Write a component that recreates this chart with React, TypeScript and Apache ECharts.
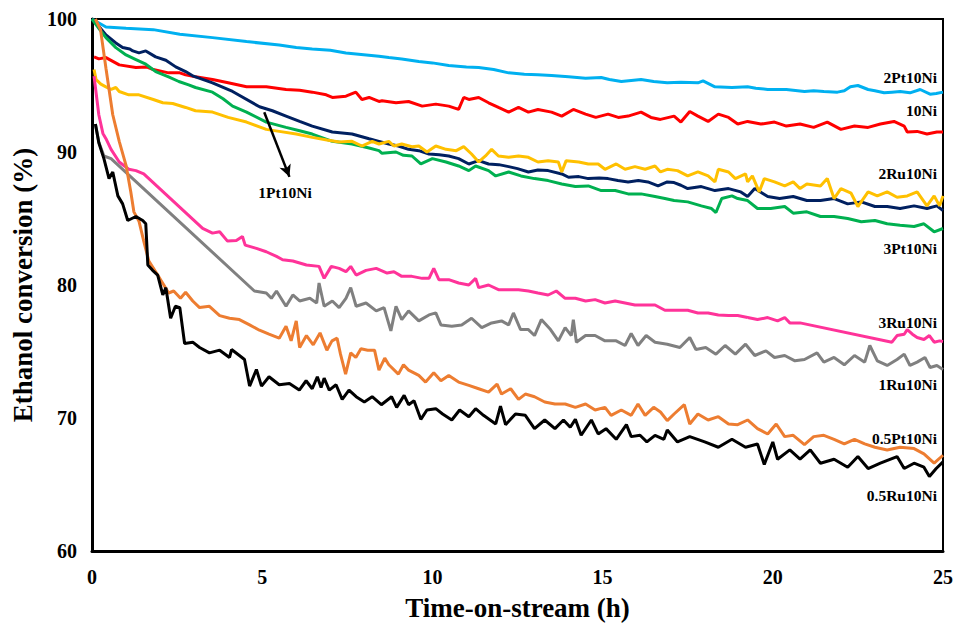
import React, { useEffect, useRef } from "react";
import * as echarts from "echarts";

// ---- Data (time-on-stream h, ethanol conversion %) ----
const xTicks = [0, 5, 10, 15, 20, 25];
const yTicks = [60, 70, 80, 90, 100];

const d2Pt10Ni: [number, number][] = [
  [0, 100], [0.41, 99.4], [1.0, 99.3], [1.8, 99.2], [2.58, 98.85], [3.54, 98.6], [4.54, 98.3], [5.5, 98.05],
  [6.0, 97.85], [6.47, 97.75], [7.0, 97.65], [7.46, 97.45], [8.43, 97.2], [8.72, 97.1], [9.1, 97.0], [9.6, 96.8],
  [10.0, 96.7], [10.48, 96.5], [11.0, 96.4], [11.36, 96.35], [11.8, 96.2], [12.24, 95.95], [12.7, 95.85], [13.1, 95.8],
  [13.5, 95.75], [14.0, 95.65], [14.5, 95.55], [14.96, 95.6], [15.2, 95.45], [15.55, 95.3], [16.13, 95.45], [16.5, 95.3],
  [16.9, 95.2], [17.3, 95.25], [17.8, 95.2], [17.95, 95.35], [18.3, 94.9], [18.8, 94.85], [19.26, 94.9], [19.5, 94.8],
  [19.85, 94.7], [20.4, 94.7], [20.93, 94.55], [21.2, 94.6], [21.5, 94.55], [21.9, 94.5], [22.1, 94.6], [22.28, 94.9],
  [22.5, 95.0], [22.8, 94.7], [23.0, 94.6], [23.27, 94.45], [23.5, 94.5], [23.74, 94.55], [24.03, 94.45], [24.33, 94.7],
  [24.62, 94.35], [24.8, 94.4], [25, 94.5],
];

const d10Ni: [number, number][] = [
  [0.06, 97.15], [0.2, 97.0], [0.41, 97.1], [0.8, 96.55], [1.29, 96.35], [1.6, 96.4], [1.8, 96.2], [2.25, 95.95],
  [2.58, 95.95], [2.75, 95.8], [3.04, 95.65], [3.54, 95.45], [4.0, 95.2], [4.54, 94.9], [5.12, 94.9], [5.7, 94.7],
  [6.1, 94.65], [6.47, 94.5], [6.88, 94.3], [7.06, 94.1], [7.46, 94.2], [7.75, 94.5], [7.93, 93.95], [8.14, 94.1],
  [8.43, 93.8], [8.52, 93.85], [8.93, 93.7], [9.3, 93.8], [9.7, 93.45], [10.1, 93.6], [10.48, 93.45], [10.77, 93.2],
  [10.92, 94.1], [11.07, 93.95], [11.36, 94.1], [11.65, 93.7], [11.94, 93.35], [12.24, 93.0], [12.53, 93.35], [12.82, 93.0],
  [13.1, 93.2], [13.5, 93.0], [13.8, 92.7], [14.14, 93.2], [14.5, 92.85], [14.8, 92.6], [15.16, 92.85], [15.46, 92.6],
  [15.75, 92.7], [16.13, 93.0], [16.42, 92.6], [16.7, 92.45], [17.1, 92.7], [17.3, 92.25], [17.56, 93.05], [17.8, 92.7],
  [18.1, 92.3], [18.4, 92.85], [18.7, 92.6], [18.97, 92.1], [19.26, 92.3], [19.65, 92.1], [20.05, 92.25], [20.4, 91.95],
  [20.8, 92.1], [21.2, 91.85], [21.6, 92.25], [22.0, 91.7], [22.4, 91.95], [22.8, 91.85], [23.16, 92.1], [23.56, 92.3],
  [23.86, 91.95], [23.95, 91.5], [24.24, 91.55], [24.53, 91.35], [24.82, 91.5], [25, 91.5],
];

const d1Pt10Ni: [number, number][] = [
  [0, 100], [0.12, 99.7], [0.41, 98.8], [0.7, 98.2], [0.9, 97.85], [1.11, 97.75], [1.2, 97.6], [1.38, 97.45],
  [1.58, 97.6], [1.87, 97.15], [2.17, 96.9], [2.46, 96.4], [2.75, 96.05], [2.98, 95.7], [3.54, 95.2], [4.13, 94.55],
  [4.92, 93.4], [5.3, 93.1], [5.7, 92.7], [6.1, 92.3], [6.47, 91.95], [7.06, 91.5], [7.64, 91.35], [8.14, 91.0],
  [8.43, 90.8], [8.72, 90.6], [9.0, 90.45], [9.3, 90.2], [9.6, 90.1], [9.9, 89.85], [10.2, 89.8], [10.48, 89.7],
  [10.77, 89.5], [11.07, 89.1], [11.36, 89.35], [11.65, 89.1], [11.95, 89.05], [12.24, 88.9], [12.5, 88.75], [12.82, 88.5],
  [13.1, 88.65], [13.4, 88.6], [13.8, 88.35], [14.0, 88.1], [14.3, 88.15], [14.58, 88.0], [14.9, 88.05], [15.16, 88.0],
  [15.45, 87.85], [15.75, 87.75], [16.05, 87.85], [16.33, 87.75], [16.63, 87.45], [16.9, 87.75], [17.1, 87.7], [17.3, 87.5],
  [17.5, 87.25], [17.9, 87.4], [18.3, 87.1], [18.7, 87.25], [19.06, 87.0], [19.26, 86.65], [19.47, 87.25], [19.85, 86.65],
  [20.2, 86.5], [20.6, 86.65], [21.0, 86.35], [21.4, 86.35], [21.8, 86.5], [22.2, 86.1], [22.6, 86.25], [23.0, 85.9],
  [23.36, 85.9], [23.74, 85.75], [24.15, 85.95], [24.53, 85.75], [24.82, 85.95], [25, 85.6],
];

const d3Pt10Ni: [number, number][] = [
  [0, 100], [0.2, 99.3], [0.41, 98.6], [0.7, 97.85], [1.0, 97.3], [1.29, 96.95], [1.58, 96.6], [1.87, 96.05],
  [2.25, 95.65], [2.55, 95.3], [2.84, 95.05], [3.04, 94.85], [3.54, 94.5], [3.85, 94.0], [4.13, 93.45], [4.54, 93.0],
  [5.12, 92.25], [5.7, 91.85], [6.1, 91.6], [6.47, 91.35], [7.06, 90.8], [7.64, 90.6], [8.14, 90.3], [8.43, 90.1],
  [8.52, 89.9], [8.93, 90.0], [9.15, 89.75], [9.4, 89.7], [9.66, 89.1], [10.0, 89.5], [10.4, 89.25], [10.77, 88.95],
  [11.07, 88.6], [11.27, 88.95], [11.65, 88.6], [11.86, 88.2], [12.24, 88.5], [12.6, 88.2], [13.0, 88.0], [13.4, 87.85],
  [13.8, 87.6], [14.2, 87.4], [14.58, 87.45], [14.96, 87.1], [15.37, 87.1], [15.75, 86.85], [16.13, 86.85], [16.54, 86.65],
  [16.83, 86.5], [17.1, 86.35], [17.5, 86.25], [17.9, 85.95], [18.2, 85.75], [18.33, 85.45], [18.5, 86.5], [18.8, 86.7],
  [18.97, 86.5], [19.26, 86.35], [19.55, 85.75], [19.94, 85.75], [20.35, 85.9], [20.6, 85.4], [21.0, 85.5], [21.4, 85.15],
  [21.8, 85.15], [22.2, 85.0], [22.6, 84.75], [23.0, 84.85], [23.36, 84.6], [23.74, 84.5], [24.15, 84.4], [24.44, 84.6],
  [24.74, 84.0], [25, 84.25],
];

const d2Ru10Ni: [number, number][] = [
  [0.06, 96.2], [0.12, 95.45], [0.26, 95.1], [0.41, 94.9], [0.56, 94.7], [0.7, 94.85], [0.8, 94.55], [1.08, 94.3],
  [1.38, 94.3], [1.8, 93.95], [2.08, 93.7], [2.37, 93.65], [2.75, 93.35], [3.04, 93.1], [3.54, 93.0], [4.0, 92.6],
  [4.54, 92.25], [5.12, 91.7], [5.5, 91.55], [6.0, 91.35], [6.47, 91.1], [6.9, 90.9], [7.26, 90.75], [7.64, 90.8],
  [7.93, 90.45], [8.23, 90.8], [8.43, 90.6], [8.72, 90.8], [8.87, 90.45], [9.1, 90.6], [9.4, 90.4], [9.6, 90.45],
  [9.84, 90.0], [10.1, 90.45], [10.4, 90.2], [10.7, 90.1], [10.92, 90.4], [11.15, 89.85], [11.36, 89.25], [11.56, 89.7],
  [11.74, 90.2], [11.94, 89.7], [12.24, 89.6], [12.53, 89.7], [12.82, 89.6], [13.1, 89.25], [13.4, 89.35], [13.7, 89.25],
  [13.8, 88.5], [13.93, 89.35], [14.3, 89.25], [14.58, 89.1], [14.87, 89.1], [15.07, 88.7], [15.4, 89.1], [15.66, 88.7],
  [15.95, 88.9], [16.25, 88.7], [16.54, 88.95], [16.7, 88.5], [16.9, 88.7], [17.2, 88.6], [17.5, 88.2], [17.8, 88.5],
  [18.1, 88.2], [18.3, 87.75], [18.4, 88.7], [18.7, 88.5], [18.9, 88.0], [19.2, 88.35], [19.26, 87.75], [19.4, 88.2],
  [19.6, 87.0], [19.75, 88.0], [20.05, 87.75], [20.35, 87.45], [20.6, 87.75], [20.8, 87.25], [21.0, 87.6], [21.4, 87.45],
  [21.6, 88.0], [21.8, 86.5], [22.0, 87.25], [22.3, 86.9], [22.5, 85.9], [22.8, 87.0], [23.07, 86.7], [23.36, 87.0],
  [23.65, 86.6], [23.95, 86.7], [24.24, 87.0], [24.53, 85.95], [24.74, 86.7], [24.9, 85.95], [25, 86.7],
];

const d3Ru10Ni: [number, number][] = [
  [0.06, 95.7], [0.2, 92.8], [0.32, 91.4], [0.41, 91.0], [0.56, 90.2], [0.8, 89.25], [1.08, 88.7], [1.29, 88.6],
  [1.52, 88.35], [3.25, 84.25], [3.54, 83.9], [3.75, 84.0], [3.98, 83.3], [4.24, 83.35], [4.42, 83.65], [4.5, 83.0],
  [4.83, 82.75], [5.12, 82.5], [5.42, 82.15], [5.6, 81.9], [5.9, 81.8], [6.3, 81.5], [6.67, 81.4], [6.82, 80.5],
  [7.03, 81.4], [7.26, 81.25], [7.46, 81.0], [7.6, 81.4], [7.76, 80.75], [8.05, 81.1], [8.35, 81.25], [8.67, 80.9],
  [8.87, 81.0], [9.1, 80.65], [9.4, 80.65], [9.7, 80.5], [9.9, 80.5], [10.04, 81.25], [10.19, 80.4], [10.48, 80.4],
  [10.77, 80.15], [11.07, 80.0], [11.27, 80.5], [11.36, 79.8], [11.65, 80.0], [11.94, 79.65], [12.24, 79.65], [12.53, 79.65],
  [12.82, 79.55], [13.1, 79.4], [13.4, 79.25], [13.64, 79.55], [13.9, 79.0], [14.2, 79.0], [14.5, 78.8], [14.78, 78.9],
  [15.07, 78.65], [15.37, 78.8], [15.66, 78.65], [15.95, 78.5], [16.25, 78.5], [16.54, 78.5], [16.83, 78.1], [17.2, 78.1],
  [17.5, 78.1], [17.8, 77.9], [18.1, 77.9], [18.4, 77.75], [18.7, 77.7], [18.97, 77.7], [19.26, 77.55], [19.55, 77.4],
  [19.85, 77.55], [20.14, 77.3], [20.35, 77.55], [20.5, 77.15], [20.8, 77.15], [23.5, 75.7], [23.65, 76.2], [23.86, 76.3],
  [23.95, 76.65], [24.1, 76.3], [24.24, 76.05], [24.44, 75.9], [24.6, 76.2], [24.74, 75.7], [24.9, 75.8], [25, 75.75],
];

const d1Ru10Ni: [number, number][] = [
  [0.1, 92.1], [0.2, 90.75], [0.35, 89.7], [0.56, 89.5], [4.77, 79.55], [5.12, 79.4], [5.27, 79.0], [5.42, 79.55],
  [5.7, 78.4], [5.9, 79.25], [6.1, 78.8], [6.4, 79.0], [6.6, 78.65], [6.67, 80.15], [6.82, 78.4], [7.06, 78.8],
  [7.26, 78.3], [7.46, 79.0], [7.6, 79.8], [7.76, 78.4], [8.05, 78.65], [8.35, 78.05], [8.58, 78.3], [8.78, 76.55],
  [8.93, 78.4], [9.1, 77.4], [9.3, 78.05], [9.6, 77.3], [9.9, 77.75], [10.1, 77.9], [10.25, 77.0], [10.57, 76.9],
  [10.86, 77.0], [11.15, 77.5], [11.45, 76.8], [11.74, 77.15], [12.03, 77.3], [12.24, 77.0], [12.38, 77.9], [12.59, 76.65],
  [12.82, 76.65], [13.0, 76.2], [13.2, 77.4], [13.47, 76.65], [13.7, 75.8], [13.9, 76.8], [14.08, 76.2], [14.14, 77.4],
  [14.23, 75.7], [14.5, 76.2], [14.78, 76.2], [15.07, 75.8], [15.4, 75.8], [15.66, 75.45], [15.84, 76.35], [16.04, 75.45],
  [16.28, 76.2], [16.54, 75.7], [16.9, 75.55], [17.27, 75.3], [17.56, 76.05], [17.74, 75.15], [18.03, 75.3], [18.33, 74.8],
  [18.6, 75.45], [18.9, 74.8], [19.2, 75.55], [19.47, 74.7], [19.8, 75.05], [20.05, 74.55], [20.35, 74.7], [20.65, 74.3],
  [20.93, 74.4], [21.3, 74.9], [21.5, 74.2], [21.8, 74.55], [22.1, 74.0], [22.4, 74.7], [22.7, 74.2], [22.85, 75.45],
  [23.07, 74.3], [23.36, 73.95], [23.65, 74.4], [23.86, 74.8], [24.03, 73.95], [24.24, 74.2], [24.47, 74.55], [24.62, 73.8],
  [24.82, 73.95], [25, 73.65],
];

const d05Pt10Ni: [number, number][] = [
  [0.1, 100], [0.25, 99.2], [0.41, 96.3], [0.61, 92.8], [0.8, 90.8], [1.0, 89.0], [1.14, 87.0], [1.23, 85.5],
  [1.38, 84.8], [1.52, 83.3], [1.67, 81.8], [1.93, 80.75], [2.11, 80.0], [2.25, 79.4], [2.4, 79.55], [2.6, 79.0],
  [2.75, 79.45], [2.96, 78.8], [3.16, 78.3], [3.45, 78.4], [3.75, 77.7], [4.04, 77.5], [4.33, 77.4], [4.63, 77.0],
  [4.92, 76.6], [5.2, 76.3], [5.5, 76.0], [5.7, 76.9], [5.85, 75.8], [6.0, 77.3], [6.1, 75.3], [6.3, 76.2],
  [6.5, 75.5], [6.7, 76.4], [6.9, 75.1], [7.05, 75.8], [7.2, 76.0], [7.3, 74.8], [7.45, 73.3], [7.6, 74.9],
  [7.75, 74.55], [7.9, 75.2], [8.1, 75.1], [8.3, 75.1], [8.43, 73.6], [8.6, 74.5], [8.72, 74.0], [9.0, 73.3],
  [9.15, 74.0], [9.3, 73.6], [9.6, 73.2], [9.8, 72.7], [10.04, 73.4], [10.25, 72.8], [10.48, 73.2], [10.77, 72.7],
  [11.07, 72.45], [11.36, 72.2], [11.65, 71.95], [11.9, 72.55], [12.03, 71.8], [12.3, 72.2], [12.53, 71.4], [12.73, 71.8],
  [13.0, 71.6], [13.3, 71.2], [13.6, 71.05], [13.9, 71.05], [14.2, 70.8], [14.5, 71.05], [14.78, 70.6], [15.07, 70.8],
  [15.25, 70.2], [15.55, 70.6], [15.84, 70.2], [16.04, 71.05], [16.25, 70.2], [16.5, 70.8], [16.7, 70.45], [16.9, 69.8],
  [17.1, 70.3], [17.4, 71.0], [17.56, 69.55], [17.8, 70.3], [18.1, 69.85], [18.4, 70.1], [18.7, 69.55], [18.97, 69.5],
  [19.26, 69.85], [19.55, 69.2], [19.85, 68.8], [20.1, 69.55], [20.35, 68.6], [20.6, 68.7], [20.93, 68.0], [21.2, 68.6],
  [21.5, 68.7], [21.8, 68.4], [22.1, 68.05], [22.4, 68.4], [22.7, 68.05], [23.0, 67.8], [23.36, 67.6], [23.74, 67.8],
  [24.15, 67.7], [24.44, 67.3], [24.74, 66.6], [25, 67.2],
];

const d05Ru10Ni: [number, number][] = [
  [0.1, 92.1], [0.2, 90.7], [0.35, 89.5], [0.5, 88.0], [0.61, 88.5], [0.76, 86.7], [0.9, 86.1], [1.05, 84.85],
  [1.29, 85.15], [1.49, 84.85], [1.58, 84.6], [1.64, 81.5], [1.78, 81.1], [1.93, 80.75], [2.08, 79.25], [2.17, 79.8],
  [2.31, 77.5], [2.45, 78.4], [2.58, 78.3], [2.72, 75.6], [2.96, 75.7], [3.16, 75.3], [3.45, 74.9], [3.75, 75.1],
  [4.04, 74.55], [4.1, 75.15], [4.33, 74.7], [4.48, 74.4], [4.63, 72.4], [4.83, 73.65], [4.98, 72.4], [5.2, 73.1],
  [5.5, 72.5], [5.8, 72.6], [6.09, 72.1], [6.29, 72.8], [6.47, 72.2], [6.62, 73.1], [6.73, 72.3], [6.82, 73.0],
  [6.97, 72.1], [7.17, 72.5], [7.35, 71.4], [7.55, 72.1], [7.76, 71.6], [8.0, 71.2], [8.23, 71.6], [8.5, 71.0],
  [8.8, 71.6], [8.95, 70.8], [9.17, 71.7], [9.3, 71.0], [9.46, 71.3], [9.66, 69.9], [9.84, 70.6], [10.1, 70.7],
  [10.3, 70.3], [10.57, 69.85], [10.8, 70.6], [11.07, 70.1], [11.27, 70.7], [11.5, 70.2], [11.86, 69.55], [12.0, 70.9],
  [12.15, 69.5], [12.44, 70.3], [12.73, 70.2], [13.0, 69.2], [13.3, 69.85], [13.6, 69.2], [13.85, 69.85], [14.05, 69.3],
  [14.2, 69.9], [14.37, 68.7], [14.67, 69.85], [14.87, 68.8], [15.1, 69.2], [15.4, 68.4], [15.7, 69.5], [15.84, 68.6],
  [16.1, 68.7], [16.3, 68.2], [16.54, 68.7], [16.8, 68.4], [16.9, 69.1], [17.2, 68.2], [17.56, 68.6], [18.0, 68.2],
  [18.4, 67.8], [18.8, 68.4], [19.2, 67.8], [19.55, 68.05], [19.75, 66.5], [20.0, 68.2], [20.14, 66.9], [20.5, 67.6],
  [20.8, 66.9], [21.1, 67.6], [21.4, 66.6], [21.8, 66.9], [22.2, 66.3], [22.5, 67.1], [22.8, 66.2], [23.16, 66.6],
  [23.65, 67.1], [23.86, 66.2], [24.15, 66.6], [24.44, 66.3], [24.6, 65.6], [24.8, 66.2], [25, 66.7],
];

const seriesNames = ["10Ni", "2Pt10Ni", "1Pt10Ni", "3Pt10Ni", "2Ru10Ni", "3Ru10Ni", "1Ru10Ni", "0.5Pt10Ni", "0.5Ru10Ni"];
const seriesData = [d10Ni, d2Pt10Ni, d1Pt10Ni, d3Pt10Ni, d2Ru10Ni, d3Ru10Ni, d1Ru10Ni, d05Pt10Ni, d05Ru10Ni];
const seriesColors = ["#FF0000", "#00B0F0", "#002060", "#00B050", "#FFC000", "#FF3399", "#808080", "#ED7D31", "#000000"];

// arrow pointing at 1Pt10Ni curve (data coords)
const arrowFrom: [number, number] = [5.06, 92.99];
const arrowTo: [number, number] = [5.8, 88.13];

const FONT = '"Liberation Serif", "Times New Roman", serif';

// right-side labels: [text, y px]
const endLabels: [string, number][] = [
  ["2Pt10Ni", 77], ["10Ni", 110], ["2Ru10Ni", 173], ["3Pt10Ni", 248],
  ["3Ru10Ni", 322], ["1Ru10Ni", 384], ["0.5Pt10Ni", 438], ["0.5Ru10Ni", 495],
];

export default function App() {
  const ref = useRef<HTMLDivElement>(null);
  useEffect(() => {
    if (!ref.current) return;
    const chart = echarts.init(ref.current, undefined, { renderer: "svg" });
    const series: any[] = seriesNames.map((name, i) => ({
      name,
      type: "line",
      data: seriesData[i],
      showSymbol: false,
      symbol: "none",
      lineStyle: { color: seriesColors[i], width: 3 },
      itemStyle: { color: seriesColors[i] },
      z: 2,
    }));
    series[2].markLine = {
      silent: true,
      symbol: ["none", "arrow"],
      symbolSize: [9, 12],
      label: { show: false },
      lineStyle: { color: "#000", width: 2.5, type: "solid" },
      data: [[{ coord: arrowFrom }, { coord: arrowTo }]],
    };
    const graphics: any[] = endLabels.map(([text, y]) => ({
      type: "text",
      x: 937,
      y,
      style: {
        text,
        fill: "#000",
        font: `bold 15.5px ${FONT}`,
        textAlign: "right",
        textVerticalAlign: "middle",
      },
    }));
    graphics.push({
      type: "text",
      x: 285,
      y: 192,
      style: {
        text: "1Pt10Ni",
        fill: "#000",
        font: `bold 15.5px ${FONT}`,
        textAlign: "center",
        textVerticalAlign: "middle",
      },
    });
    chart.setOption({
      animation: false,
      backgroundColor: "#fff",
      grid: {
        left: 92, right: 10, top: 19, bottom: 71,
        show: true, borderColor: "#000", borderWidth: 2, backgroundColor: "transparent",
      },
      xAxis: {
        type: "value",
        min: xTicks[0],
        max: xTicks[xTicks.length - 1],
        interval: 5,
        name: "Time-on-stream (h)",
        nameLocation: "middle",
        nameGap: 43,
        nameTextStyle: { fontFamily: FONT, fontWeight: "bold", fontSize: 27, color: "#000" },
        axisLine: { show: true, lineStyle: { color: "#000", width: 3 } },
        axisTick: { show: false },
        splitLine: { show: false },
        axisLabel: { fontFamily: FONT, fontWeight: "bold", fontSize: 20, color: "#000", margin: 16 },
      },
      yAxis: {
        type: "value",
        min: yTicks[0],
        max: yTicks[yTicks.length - 1],
        interval: 10,
        name: "Ethanol conversion (%)",
        nameLocation: "middle",
        nameGap: 56,
        nameTextStyle: { fontFamily: FONT, fontWeight: "bold", fontSize: 27, color: "#000" },
        axisLine: { show: true, lineStyle: { color: "#000", width: 3 } },
        axisTick: { show: false },
        splitLine: { show: false },
        axisLabel: { fontFamily: FONT, fontWeight: "bold", fontSize: 20, color: "#000", margin: 15 },
      },
      series,
      graphic: graphics,
    });
    return () => chart.dispose();
  }, []);
  return (
    <div
      ref={ref}
      style={{ position: "fixed", left: 0, top: 0, width: 956, height: 626, background: "#fff" }}
    />
  );
}
